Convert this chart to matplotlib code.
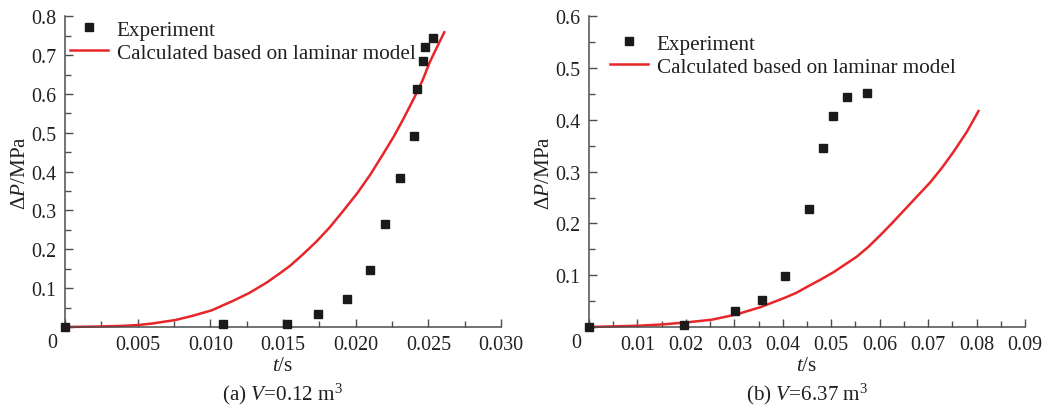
import matplotlib
matplotlib.use("Agg")
import matplotlib.pyplot as plt
from matplotlib.ticker import MultipleLocator, FuncFormatter

plt.rcParams['font.family'] = ['Liberation Serif', 'DejaVu Serif']
plt.rcParams['mathtext.fontset'] = 'custom'
plt.rcParams['mathtext.rm'] = 'Liberation Serif'
plt.rcParams['mathtext.it'] = 'Liberation Serif:italic'

# panel (a): V = 0.12 m3
exp_t_a = [0.0, 0.01085, 0.01525, 0.01738, 0.0194, 0.02098, 0.0220, 0.02304,
           0.0240, 0.02419, 0.0246, 0.02476, 0.02529]
exp_p_a = [0.0, 0.008, 0.008, 0.034, 0.073, 0.148, 0.265, 0.384,
           0.493, 0.612, 0.686, 0.721, 0.745]
calc_t_a = [0.0, 0.002, 0.004, 0.005, 0.006, 0.0076, 0.0088, 0.0101, 0.0116,
            0.0127, 0.0139, 0.0147, 0.0155, 0.0164, 0.0173, 0.0182, 0.0191,
            0.0201, 0.0210, 0.0218, 0.0226, 0.0233, 0.0240, 0.0246, 0.0251,
            0.0256, 0.0261]
calc_p_a = [0.0, 0.001, 0.003, 0.005, 0.009, 0.018, 0.029, 0.043, 0.068,
            0.088, 0.115, 0.136, 0.158, 0.188, 0.220, 0.256, 0.297,
            0.344, 0.392, 0.440, 0.489, 0.537, 0.588, 0.635, 0.682,
            0.721, 0.759]

# panel (b): V = 6.37 m3
exp_t_b = [0.0, 0.0197, 0.0301, 0.0357, 0.0404, 0.0455, 0.0483, 0.0503, 0.0532, 0.0574]
exp_p_b = [0.0, 0.003, 0.030, 0.053, 0.099, 0.227, 0.345, 0.408, 0.445, 0.451]
calc_t_b = [0.0, 0.0102, 0.0152, 0.0202, 0.0253, 0.0303, 0.0353, 0.0403, 0.0428,
            0.0453, 0.0479, 0.0505, 0.0529, 0.0553, 0.0577, 0.0601, 0.0625,
            0.0649, 0.0677, 0.0705, 0.0729, 0.0753, 0.0780, 0.0804]
calc_p_b = [0.0, 0.0025, 0.005, 0.009, 0.014, 0.024, 0.038, 0.056, 0.066,
            0.079, 0.092, 0.106, 0.121, 0.136, 0.155, 0.177, 0.200,
            0.224, 0.252, 0.280, 0.308, 0.339, 0.377, 0.417]

text_col = '#231f20'
axis_col = '#4d4d4d'
red = '#e8262a'
fs = 14.4     # tick labels
fs_txt = 15.2  # legend, axis titles, captions

W, H = 1050, 406
fig = plt.figure(figsize=(W / 100, H / 100), dpi=100)


def px_box(x0, x1, ytop, ybot):
    return [x0 / W, 1 - ybot / H, (x1 - x0) / W, (ybot - ytop) / H]


def setup(ax, exp_t, exp_p, calc_t, calc_p, xmax, xmajor, ymax, fmt, caption, leg_xy):
    ax.plot(exp_t, exp_p, 's', color='#1a1a1a', markersize=5.2, clip_on=False,
            label='Experiment', zorder=3)
    ax.plot(calc_t, calc_p, '-', color=red, lw=1.8, clip_on=False,
            solid_joinstyle='round', label='Calculated based on laminar model', zorder=2)
    ax.set_xlim(0, xmax)
    ax.set_ylim(0, ymax)
    for s in ['top', 'right']:
        ax.spines[s].set_visible(False)
    for s in ['left', 'bottom']:
        ax.spines[s].set_color(axis_col)
        ax.spines[s].set_linewidth(1.1)
    ax.xaxis.set_major_locator(MultipleLocator(xmajor))
    ax.xaxis.set_minor_locator(MultipleLocator(xmajor / 2))
    ax.yaxis.set_major_locator(MultipleLocator(0.1))
    ax.yaxis.set_minor_locator(MultipleLocator(0.05))
    ax.xaxis.set_major_formatter(FuncFormatter(lambda v, p: '' if abs(v) < 1e-12 else fmt.format(v)))
    ax.yaxis.set_major_formatter(FuncFormatter(lambda v, p: '' if abs(v) < 1e-12 else '{:.1f}'.format(v)))
    ax.tick_params(which='both', direction='in', color=axis_col, width=1.0,
                   labelsize=fs, labelcolor=text_col)
    ax.tick_params(which='major', length=6, pad=6)
    ax.tick_params(which='minor', length=4)
    ax.patch.set_visible(False)
    # shared corner label for both axes
    ax.annotate('0', xy=(0, 0), xycoords='axes fraction', xytext=(-9.5, -11.5),
                textcoords='offset points', fontsize=fs, color=text_col,
                ha='center', va='center')
    ax.set_xlabel('$\\it{t}$/s', fontsize=fs_txt, color=text_col, labelpad=1)
    ax.set_ylabel('Δ$\\it{P}$/MPa', fontsize=fs_txt, color=text_col, labelpad=1)
    ax.annotate(caption, xy=(0.5, 0), xycoords='axes fraction', xytext=(0, -47.5),
                textcoords='offset points', fontsize=fs_txt, color=text_col,
                ha='center', va='center')
    leg = ax.legend(loc='upper left', bbox_to_anchor=(leg_xy[0] / W, 1 - leg_xy[1] / H),
                    bbox_transform=fig.transFigure, frameon=False, fontsize=fs_txt,
                    handlelength=1.8, handletextpad=0.42, labelspacing=0.15,
                    borderpad=0, borderaxespad=0)
    for t in leg.get_texts():
        t.set_color(text_col)


ax1 = fig.add_axes(px_box(65, 501, 17.3, 328))
setup(ax1, exp_t_a, exp_p_a, calc_t_a, calc_p_a, 0.030, 0.005, 0.8, '{:.3f}',
      '(a) $\\it{V}$=0.12 m$^3$', (70, 21))

ax2 = fig.add_axes(px_box(589, 1025, 17.3, 328))
setup(ax2, exp_t_b, exp_p_b, calc_t_b, calc_p_b, 0.09, 0.01, 0.6, '{:.2f}',
      '(b) $\\it{V}$=6.37 m$^3$', (610, 35))

fig.savefig('out.png', dpi=100)
